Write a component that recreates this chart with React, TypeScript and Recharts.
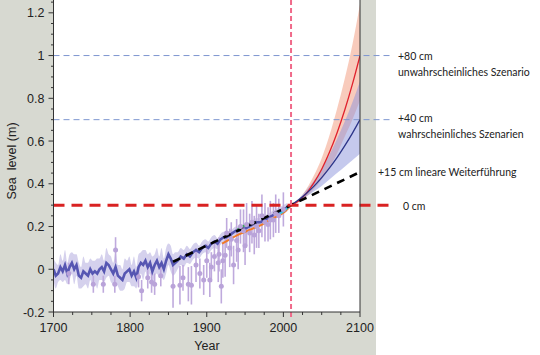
import React from "react";
import {
  ComposedChart, Line, Area, Scatter, ErrorBar, XAxis, YAxis, CartesianGrid, ReferenceLine,
} from "recharts";

// ---- data ----
// reconstruction: [year, sea level (m), band half width]
const reconstruction: [number, number, number][] = [
  [1700, 0.0, 0.05], [1703, -0.03, 0.06], [1706, -0.02, 0.04], [1709, 0.01, 0.06], [1712, -0.01, 0.05],
  [1715, 0.02, 0.07], [1718, -0.02, 0.05], [1721, 0.01, 0.06], [1724, 0.03, 0.05], [1727, 0.0, 0.07],
  [1730, 0.02, 0.05], [1733, -0.03, 0.06], [1736, -0.04, 0.05], [1739, -0.01, 0.07], [1742, -0.02, 0.05],
  [1745, -0.03, 0.06], [1748, 0.0, 0.05], [1751, -0.02, 0.06], [1754, -0.01, 0.05], [1757, -0.02, 0.07],
  [1760, 0.0, 0.05], [1763, 0.01, 0.06], [1766, -0.01, 0.05], [1769, 0.03, 0.07], [1772, 0.02, 0.05],
  [1775, 0.0, 0.06], [1778, -0.02, 0.05], [1781, 0.01, 0.07], [1784, -0.03, 0.05], [1787, -0.04, 0.06],
  [1790, -0.05, 0.05], [1793, -0.02, 0.07], [1796, -0.01, 0.05], [1799, 0.0, 0.06], [1802, -0.03, 0.05],
  [1805, -0.01, 0.07], [1808, -0.04, 0.05], [1811, 0.01, 0.06], [1814, 0.03, 0.05], [1817, 0.02, 0.07],
  [1820, 0.04, 0.05], [1823, 0.01, 0.06], [1826, 0.03, 0.05], [1829, -0.01, 0.07], [1832, 0.02, 0.05],
  [1835, 0.04, 0.06], [1838, 0.01, 0.05], [1841, 0.03, 0.07], [1844, 0.0, 0.05], [1847, 0.04, 0.06],
  [1850, 0.07, 0.05], [1853, 0.05, 0.06], [1856, 0.02, 0.05], [1859, 0.03, 0.05], [1862, 0.04, 0.04],
  [1866, 0.06, 0.04], [1870, 0.05, 0.04], [1874, 0.07, 0.04], [1878, 0.06, 0.035], [1882, 0.08, 0.035],
  [1886, 0.09, 0.035], [1890, 0.08, 0.03], [1894, 0.1, 0.03], [1898, 0.11, 0.03], [1902, 0.1, 0.03],
  [1906, 0.12, 0.03], [1910, 0.13, 0.03], [1914, 0.12, 0.025], [1918, 0.14, 0.025], [1922, 0.15, 0.025],
  [1926, 0.15, 0.025], [1930, 0.16, 0.02], [1934, 0.17, 0.02], [1938, 0.18, 0.02], [1942, 0.18, 0.02],
  [1946, 0.19, 0.02], [1950, 0.19, 0.02], [1955, 0.2, 0.02], [1960, 0.21, 0.02], [1965, 0.22, 0.02],
  [1970, 0.22, 0.02], [1975, 0.23, 0.02], [1980, 0.24, 0.02], [1985, 0.25, 0.02], [1990, 0.26, 0.02],
  [1995, 0.27, 0.02], [2000, 0.28, 0.02], [2005, 0.29, 0.02],
];

// proxy / tide gauge points: [year, value, error]
const proxyPoints: [number, number, number][] = [
  [1720, -0.02, 0.05], [1752, -0.07, 0.04], [1765, -0.07, 0.04], [1780, -0.07, 0.04], [1781, 0.09, 0.06],
  [1811, -0.035, 0.05], [1815, -0.1, 0.05], [1823, -0.04, 0.05], [1828, -0.06, 0.05], [1832, -0.07, 0.05],
  [1840, -0.03, 0.05], [1856, -0.08, 0.1], [1865, -0.075, 0.09], [1869, -0.04, 0.06], [1876, -0.07, 0.08],
  [1880, -0.075, 0.09], [1886, 0.02, 0.08], [1891, -0.02, 0.07], [1896, -0.05, 0.07], [1900, 0.04, 0.08],
  [1904, -0.05, 0.08], [1906, 0.01, 0.07], [1910, 0.06, 0.07], [1915, 0.03, 0.09], [1916, 0.07, 0.08],
  [1919, -0.08, 0.08], [1921, 0.04, 0.08], [1924, 0.065, 0.1], [1926, 0.17, 0.07], [1930, 0.1, 0.09],
  [1932, 0.14, 0.08], [1935, 0.02, 0.09], [1939, 0.135, 0.1], [1941, 0.09, 0.09], [1944, 0.2, 0.08],
  [1948, 0.18, 0.1], [1950, 0.11, 0.09], [1952, 0.21, 0.1], [1956, 0.17, 0.09], [1959, 0.22, 0.1],
  [1962, 0.16, 0.09], [1965, 0.2, 0.1], [1968, 0.18, 0.08], [1972, 0.25, 0.1], [1976, 0.22, 0.09],
  [1980, 0.21, 0.08], [1983, 0.23, 0.09], [1987, 0.23, 0.08], [1990, 0.26, 0.09], [1994, 0.25, 0.08],
  [2000, 0.28, 0.08],
];

const orangeSeries: [number, number][] = [
  [1920, 0.12], [1930, 0.14], [1940, 0.16], [1950, 0.175], [1960, 0.19], [1970, 0.205],
  [1980, 0.225], [1990, 0.245], [2000, 0.265], [2009, 0.295],
];
const greenSeries: [number, number][] = [[1940, 0.185], [1945, 0.198], [1950, 0.205], [1956, 0.212]];
const cyanSeries: [number, number][] = [[1993, 0.255], [1998, 0.266], [2003, 0.28], [2010, 0.3]];
const linearTrend: [number, number][] = [[1856, 0.035], [2100, 0.455]];

const projYears = [2010, 2020, 2030, 2040, 2050, 2060, 2070, 2080, 2090, 2100];
const redMid = [0.3, 0.32, 0.355, 0.405, 0.468, 0.546, 0.638, 0.744, 0.865, 1.0];
const redLo = [0.3, 0.314, 0.34, 0.375, 0.42, 0.475, 0.54, 0.62, 0.7, 0.79];
const redHi = [0.3, 0.327, 0.375, 0.44, 0.52, 0.625, 0.75, 0.89, 1.05, 1.24];
const blueMid = [0.3, 0.325, 0.355, 0.389, 0.429, 0.473, 0.522, 0.577, 0.636, 0.7];
const blueLo = [0.3, 0.318, 0.34, 0.365, 0.39, 0.42, 0.45, 0.48, 0.51, 0.54];
const blueHi = [0.3, 0.33, 0.37, 0.415, 0.47, 0.535, 0.61, 0.69, 0.78, 0.88];

const xTicks = [1700, 1725, 1750, 1775, 1800, 1825, 1850, 1875, 1900, 1925, 1950, 1975, 2000, 2025, 2050, 2075, 2100];
const xMajor = [1700, 1800, 1900, 2000, 2100];
const yTicks = [-0.2, -0.15, -0.1, -0.05, 0, 0.05, 0.1, 0.15, 0.2, 0.25, 0.3, 0.35, 0.4, 0.45, 0.5, 0.55, 0.6, 0.65, 0.7, 0.75, 0.8, 0.85, 0.9, 0.95, 1, 1.05, 1.1, 1.15, 1.2, 1.25];
const yMajor = [-0.2, 0, 0.2, 0.4, 0.6, 0.8, 1, 1.2];

const referenceLevels = [
  { level: 1.0, label1: "+80 cm", label2: "unwahrscheinliches Szenario" },
  { level: 0.7, label1: "+40 cm", label2: "wahrscheinliches Szenarien" },
];
const presentLevel = 0.3;
const presentYear = 2010;

// ---- derived tables ----
const recData = reconstruction.map(([year, v, s]) => ({ year, v, band: [v - s, v + s] }));
const pointData = proxyPoints.map(([year, v, err]) => ({ year, v, err }));
const toRows = (a: [number, number][]) => a.map(([year, v]) => ({ year, v }));
const projData = projYears.map((year, i) => ({
  year,
  red: redMid[i],
  blue: blueMid[i],
  redBand: [redLo[i], redHi[i]],
  blueBand: [blueLo[i], blueHi[i]],
}));

const TICK_FONT = "'Liberation Sans', Arial, sans-serif";
const isMajor = (arr: number[], v: number) => arr.some((m) => Math.abs(m - v) < 1e-6);

const XTick = (props: any) => {
  const { x, y, payload } = props;
  const major = isMajor(xMajor, payload.value);
  return (
    <g>
      <line x1={x} x2={x} y1={y} y2={y + (major ? 5 : 3)} stroke="#333" strokeWidth={1} />
      {major && (
        <text x={x} y={y + 20} textAnchor="middle" fontSize={12.5} fontFamily={TICK_FONT} fill="#222">
          {payload.value}
        </text>
      )}
    </g>
  );
};

const YTick = (props: any) => {
  const { x, y, payload } = props;
  const major = isMajor(yMajor, payload.value);
  const label = Math.abs(payload.value) < 1e-9 ? "0" : String(Math.round(payload.value * 10) / 10);
  return (
    <g>
      <line x1={x - (major ? 5 : 2.5)} x2={x} y1={y} y2={y} stroke="#333" strokeWidth={1} />
      {major && (
        <text x={x - 9} y={y + 4.5} textAnchor="end" fontSize={12.5} fontFamily={TICK_FONT} fill="#222">
          {label}
        </text>
      )}
    </g>
  );
};

const YTickRight = (props: any) => {
  const { x, y, payload } = props;
  const major = isMajor(yMajor, payload.value);
  return <line x1={x} x2={x + (major ? 5 : 3)} y1={y} y2={y} stroke="#333" strokeWidth={1} />;
};

const LABEL_FONT = "Lato, 'Open Sans', sans-serif";

export default function App() {
  return (
    <div style={{ position: "absolute", left: 0, top: 0, width: 540, height: 355, background: "#ffffff" }}>
      <div style={{ position: "absolute", left: 0, top: 0, width: 376, height: 355, background: "#d7d9d1" }} />
      <div style={{ position: "absolute", left: 0, top: 0 }}>
        <ComposedChart width={540} height={355} margin={{ top: 0, right: 170, bottom: 13, left: 3.5 }}>
          <CartesianGrid horizontal={false} vertical={false} fill="#ffffff" stroke="none" />
          <XAxis
            dataKey="year" type="number" domain={[1700, 2100]} ticks={xTicks} allowDataOverflow
            height={30} tickSize={0} tickMargin={0} tickLine={false} tick={<XTick />}
            axisLine={{ stroke: "#333" }} interval={0}
          />
          <YAxis
            yAxisId="l" type="number" domain={[-0.2, 1.26]} ticks={yTicks} allowDataOverflow
            width={50} tickSize={0} tickMargin={0} tickLine={false} tick={<YTick />}
            axisLine={{ stroke: "#333" }} interval={0}
          />
          <YAxis
            yAxisId="r" orientation="right" type="number" domain={[-0.2, 1.26]} ticks={yTicks}
            width={10} tickSize={0} tickMargin={0} tickLine={false} tick={<YTickRight />}
            axisLine={{ stroke: "#333" }} interval={0}
          />
          <Area yAxisId="l" data={recData} dataKey="band" type="monotone" stroke="none" fill="#cbc5e8" fillOpacity={0.8} isAnimationActive={false} />
          <Scatter yAxisId="l" data={pointData} dataKey="v" isAnimationActive={false}
            shape={(p: any) => <circle cx={p.cx} cy={p.cy} r={2.5} fill="#b9a3d9" />}>
            <ErrorBar dataKey="err" direction="y" width={0} stroke="#bfaadd" strokeWidth={1.6} />
          </Scatter>
          <Line yAxisId="l" data={recData} dataKey="v" type="linear" stroke="#5656b2" strokeWidth={2.6} dot={false} isAnimationActive={false} />
          <Line yAxisId="l" data={toRows(orangeSeries)} dataKey="v" type="monotone" stroke="#f07a28" strokeWidth={2} dot={false} isAnimationActive={false} />
          <Line yAxisId="l" data={toRows(greenSeries)} dataKey="v" type="monotone" stroke="#3aa65a" strokeWidth={2} dot={false} isAnimationActive={false} />
          <Line yAxisId="l" data={toRows(cyanSeries)} dataKey="v" type="monotone" stroke="#3cc4e4" strokeWidth={2} dot={false} isAnimationActive={false} />
          <Area yAxisId="l" data={projData} dataKey="redBand" type="monotone" stroke="none" fill="#f4a890" fillOpacity={0.6} isAnimationActive={false} />
          <Area yAxisId="l" data={projData} dataKey="blueBand" type="monotone" stroke="none" fill="#8c94dc" fillOpacity={0.5} isAnimationActive={false} />
          <Line yAxisId="l" data={projData} dataKey="red" type="monotone" stroke="#e0202c" strokeWidth={1.3} dot={false} isAnimationActive={false} />
          <Line yAxisId="l" data={projData} dataKey="blue" type="monotone" stroke="#2c3488" strokeWidth={1.3} dot={false} isAnimationActive={false} />
          <Line yAxisId="l" data={toRows(linearTrend)} dataKey="v" type="linear" stroke="#000000" strokeWidth={2.6} strokeDasharray="8 6" dot={false} isAnimationActive={false} />
          {referenceLevels.map((r) => (
            <ReferenceLine key={r.level} yAxisId="l" ifOverflow="visible"
              segment={[{ x: 1700, y: r.level }, { x: 2140, y: r.level }]}
              stroke="#7d96d0" strokeOpacity={1} strokeWidth={1} strokeDasharray="6 4" />
          ))}
          <ReferenceLine yAxisId="l" ifOverflow="visible"
            segment={[{ x: 1700, y: presentLevel }, { x: 2140, y: presentLevel }]}
            stroke="#d92222" strokeWidth={3} strokeDasharray="11 7" />
          <ReferenceLine yAxisId="l" ifOverflow="visible"
            segment={[{ x: presentYear, y: 1.26 }, { x: presentYear, y: -0.235 }]}
            stroke="#f06a8a" strokeWidth={2} strokeDasharray="5 3" />
        </ComposedChart>
      </div>
      <svg width={540} height={355} style={{ position: "absolute", left: 0, top: 0, pointerEvents: "none" }}>
        <text transform="translate(16,161) rotate(-90)" textAnchor="middle" fontSize={12.5} fontFamily={TICK_FONT} fill="#222" style={{ whiteSpace: "pre" }}>
          {"Sea  level (m)"}
        </text>
        <text x={207} y={350} textAnchor="middle" fontSize={12.5} fontFamily={TICK_FONT} fill="#222">Year</text>
        <g fontFamily={LABEL_FONT} fontSize={10.5} fill="#222">
          <text x={398} y={60}>{referenceLevels[0].label1}</text>
          <text x={398} y={76}>{referenceLevels[0].label2}</text>
          <text x={398} y={122}>{referenceLevels[1].label1}</text>
          <text x={398} y={138}>{referenceLevels[1].label2}</text>
          <text x={378} y={176}>+15 cm lineare Weiterführung</text>
          <text x={403} y={210}>0 cm</text>
        </g>
      </svg>
    </div>
  );
}
